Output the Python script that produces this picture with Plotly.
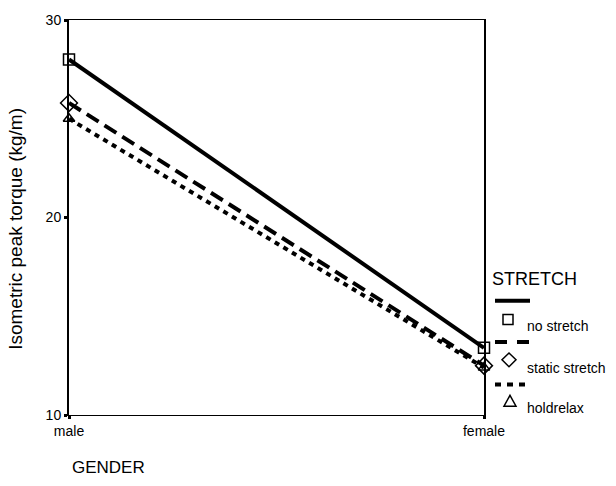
import plotly.graph_objects as go

# Mean isometric peak torque by gender for each stretching condition
genders = ["male", "female"]
no_stretch = [28.0, 13.4]
static_stretch = [25.8, 12.5]
holdrelax = [25.0, 12.4]
y_ticks = [10, 20, 30]

FONT = "Arial, Liberation Sans, sans-serif"
W, H = 616, 486
L, R, T, B = 69, 132, 14, 71
PW, PH = W - L - R, H - T - B


def px(x):
    return (x - L) / PW


def py(y):
    return (H - B - y) / PH


xs = list(range(len(genders)))

fig = go.Figure()
series = [
    ("no stretch", no_stretch, "solid", "square-open", 11),
    ("static stretch", static_stretch, "14px,7px", "diamond-open", 13),
    ("holdrelax", holdrelax, "5px,5px", "triangle-up-open", 10),
]
for name, vals, dash, sym, size in series:
    fig.add_trace(go.Scatter(
        x=xs, y=vals, name=name, mode="lines",
        line=dict(color="black", width=4, dash=dash),
        showlegend=False, cliponaxis=False,
    ))
for name, vals, dash, sym, size in series:
    fig.add_trace(go.Scatter(
        x=xs, y=vals, name=name, mode="markers",
        marker=dict(symbol=sym, size=size, color="black",
                    line=dict(color="black", width=1.5)),
        showlegend=False, cliponaxis=False,
    ))

shapes = []
annotations = []

# Hand-built legend: line sample, marker, label for each condition
annotations.append(dict(text="STRETCH", x=px(490), y=py(277), xref="paper", yref="paper",
                        xanchor="left", yanchor="middle", showarrow=False,
                        font=dict(family=FONT, size=18, color="black")))
legend_rows = [
    ("solid", 299, 318, 325, "no stretch"),
    ("12px,10px", 341, 359, 367, "static stretch"),
    ("6px,6px", 384, 401, 408, "holdrelax"),
]
for dash, ly, my, ty, label in legend_rows:
    shapes.append(dict(type="line", xref="paper", yref="paper",
                       x0=px(495), x1=px(530), y0=py(ly), y1=py(ly),
                       line=dict(color="black", width=4, dash=dash)))
    annotations.append(dict(text=label, x=px(525), y=py(ty), xref="paper", yref="paper",
                            xanchor="left", yanchor="middle", showarrow=False,
                            font=dict(family=FONT, size=14, color="black")))

# legend symbols
shapes.append(dict(type="rect", xref="paper", yref="paper",
                   x0=px(503), x1=px(513), y0=py(313), y1=py(323),
                   line=dict(color="black", width=1.5)))
cx, cy, r = 509, 359, 7
shapes.append(dict(type="path", xref="paper", yref="paper",
                   path=f"M {px(cx)} {py(cy - r)} L {px(cx + r)} {py(cy)} L {px(cx)} {py(cy + r)} L {px(cx - r)} {py(cy)} Z",
                   line=dict(color="black", width=1.5)))
cx, cy = 510, 401
shapes.append(dict(type="path", xref="paper", yref="paper",
                   path=f"M {px(cx)} {py(cy - 6)} L {px(cx + 6)} {py(cy + 5)} L {px(cx - 6)} {py(cy + 5)} Z",
                   line=dict(color="black", width=1.5)))

# axis titles
annotations.append(dict(text="Isometric peak torque (kg/m)", x=px(16), y=py(226),
                        xref="paper", yref="paper", textangle=-90, showarrow=False,
                        xanchor="center", yanchor="middle",
                        font=dict(family=FONT, size=19, color="black")))
annotations.append(dict(text="GENDER", x=px(70), y=py(468), xref="paper", yref="paper",
                        xanchor="left", yanchor="middle", showarrow=False,
                        font=dict(family=FONT, size=17, color="black")))

fig.update_layout(
    width=W, height=H,
    margin=dict(l=L, r=R, t=T, b=B, pad=0),
    paper_bgcolor="white", plot_bgcolor="white",
    font=dict(family=FONT, size=14, color="black"),
    shapes=shapes, annotations=annotations,
    xaxis=dict(range=[0, 1], tickvals=xs, ticktext=genders,
               showgrid=False, zeroline=False, showline=True, mirror=True,
               linecolor="black", linewidth=1,
               ticks="outside", ticklen=3, tickwidth=3, tickcolor="black",
               tickfont=dict(family=FONT, size=14)),
    yaxis=dict(range=[10, 30], tickvals=y_ticks,
               showgrid=False, zeroline=False, showline=True, mirror=True,
               linecolor="black", linewidth=2,
               ticks="outside", ticklen=3, tickwidth=3, tickcolor="black",
               tickfont=dict(family=FONT, size=14)),
)

fig.write_html("out.html")
